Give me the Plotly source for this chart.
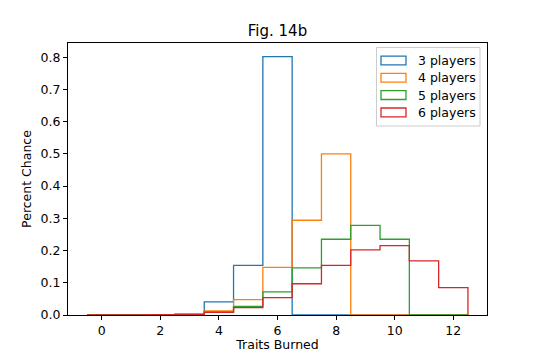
import plotly.graph_objects as go

traits = list(range(0, 13))
p3 = [0, 0, 0, 0.003, 0.041, 0.154, 0.802, 0, 0, 0, 0, 0, 0]
p4 = [0, 0, 0, 0.002, 0.013, 0.048, 0.148, 0.294, 0.500, 0, 0, 0, 0]
p5 = [0, 0, 0, 0.001, 0.010, 0.027, 0.072, 0.146, 0.235, 0.278, 0.235, 0, 0]
p6 = [0, 0.0003, 0.0008, 0.002, 0.008, 0.023, 0.054, 0.097, 0.154, 0.202, 0.215, 0.168, 0.085]
labels = ["3 players", "4 players", "5 players", "6 players"]
colors = ["#1f77b4", "#ff7f0e", "#2ca02c", "#d62728"]
series = [p3, p4, p5, p6]

edges = [t - 0.5 for t in traits] + [traits[-1] + 0.5]

# page body has an 8px default margin; figure is sized to fit inside the 540x360 window
OFF = 8
FW, FH = 540 - 2 * OFF, 360 - 2 * OFF
# plot-area geometry (window pixels)
L, R, T, B = 68, 487, 43, 315
W, H = R - L, B - T
def px(x):
    return (x - L) / W
def py(y):
    return (B - y) / H

fig = go.Figure()
for name, vals, col in zip(labels, series, colors):
    xs = [edges[0]] + edges
    ys = [0] + list(vals) + [0]
    fig.add_trace(go.Scatter(x=xs, y=ys, mode="lines", line=dict(color=col, width=1.3, shape="hv"),
                             name=name, showlegend=False, hoverinfo="skip"))

# manual matplotlib-style legend
shapes = [dict(type="rect", xref="paper", yref="paper", x0=px(376.5), x1=px(480), y0=py(126), y1=py(47.5),
               line=dict(color="#cccccc", width=1), fillcolor="rgba(255,255,255,0.8)", layer="above")]
annotations = []
row_y = [60.5, 77.8, 95.1, 112.4]
for name, col, yc in zip(labels, colors, row_y):
    shapes.append(dict(type="rect", xref="paper", yref="paper", x0=px(381), x1=px(406),
                       y0=py(yc + 4.4), y1=py(yc - 4.4), line=dict(color=col, width=1.3),
                       fillcolor="rgba(0,0,0,0)", layer="above"))
    annotations.append(dict(x=px(416), y=py(yc), xref="paper", yref="paper", text=name, showarrow=False,
                            xanchor="left", yanchor="middle",
                            font=dict(family="DejaVu Sans", size=12.5, color="black")))

fig.update_layout(
    width=FW, height=FH,
    margin=dict(l=L - OFF, r=(540 - OFF) - R, t=T - OFF, b=(360 - OFF) - B),
    paper_bgcolor="white", plot_bgcolor="white",
    font=dict(family="DejaVu Sans", size=12.5, color="black"),
    title=dict(text="Fig. 14b", x=0.5, xref="paper", xanchor="center", y=1, yref="paper",
               yanchor="bottom", pad=dict(b=7), font=dict(family="DejaVu Sans", size=15, color="black")),
    showlegend=False,
    shapes=shapes,
    annotations=annotations,
)
axis_title_font = dict(family="DejaVu Sans", size=12.5, color="black")
fig.update_xaxes(range=[-1.15, 13.15], tickvals=[0, 2, 4, 6, 8, 10, 12], ticks="outside", ticklen=4,
                 tickcolor="black", showline=True, linecolor="black", linewidth=1, mirror=True,
                 showgrid=False, zeroline=False, automargin=False,
                 tickfont=dict(family="DejaVu Sans", size=12.5, color="black"),
                 title=dict(text="Traits Burned", standoff=3, font=axis_title_font))
fig.update_yaxes(range=[0, 0.844], tickvals=[0, 0.1, 0.2, 0.3, 0.4, 0.5, 0.6, 0.7, 0.8], tickformat=".1f",
                 ticks="outside", ticklen=4, tickcolor="black", showline=True, linecolor="black", linewidth=1,
                 mirror=True, showgrid=False, zeroline=False, automargin=False,
                 tickfont=dict(family="DejaVu Sans", size=12.5, color="black"),
                 title=dict(text="Percent Chance", standoff=6, font=axis_title_font))

fig.write_html("out.html")
